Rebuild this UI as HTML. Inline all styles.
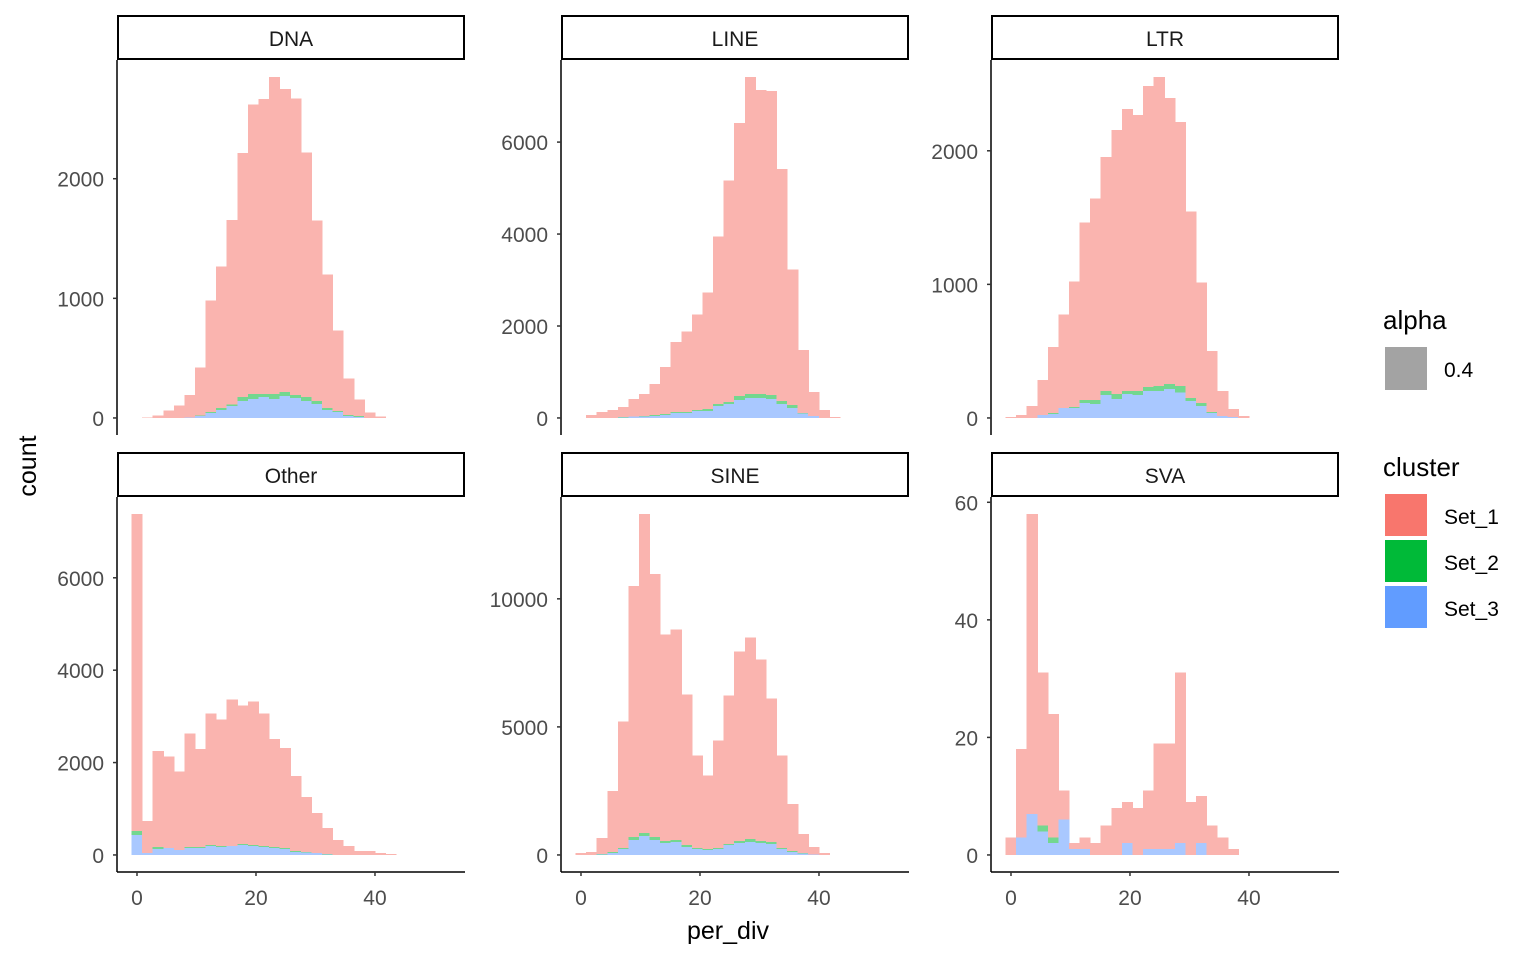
<!DOCTYPE html>
<html><head><meta charset="utf-8">
<style>
html,body{margin:0;padding:0;background:#fff;}
svg{display:block;font-family:"Liberation Sans",Arial,sans-serif;}
</style></head>
<body>
<svg id="chart" width="1536" height="960" viewBox="0 0 1536 960">
  <g id="panels"></g>
  <text x="36" y="466" font-size="25" fill="#000" text-anchor="middle" transform="rotate(-90 36 466)">count</text>
  <text x="728" y="939" font-size="25" fill="#000" text-anchor="middle">per_div</text>
  <g>
    <text x="1383" y="329" font-size="26" fill="#000">alpha</text>
    <rect x="1385" y="347" width="42" height="43" fill="#A3A3A3"/>
    <text x="1444" y="377" font-size="21" fill="#000">0.4</text>
    <text x="1383" y="476" font-size="26" fill="#000">cluster</text>
    <rect x="1385" y="494" width="42" height="42" fill="#F8766D"/>
    <text x="1444" y="524" font-size="21" fill="#000">Set_1</text>
    <rect x="1385" y="540" width="42" height="42" fill="#00BA38"/>
    <text x="1444" y="570" font-size="21" fill="#000">Set_2</text>
    <rect x="1385" y="586" width="42" height="42" fill="#619CFF"/>
    <text x="1444" y="616" font-size="21" fill="#000">Set_3</text>
  </g>
</svg>
<script>
const facets = ["DNA","LINE","LTR","Other","SINE","SVA"];
const startBins = [1,1,0,0,0,0];
const xTicks = [0,20,40];
const yTicksDNA = [0,1000,2000];
const yTicksLINE = [0,2000,4000,6000];
const yTicksLTR = [0,1000,2000];
const yTicksOther = [0,2000,4000,6000];
const yTicksSINE = [0,5000,10000];
const yTicksSVA = [0,20,40,60];

const dnaSet1 = [5,22,64,105,185,398,930,1182,1541,2040,2420,2465,2650,2533,2478,2045,1508,1117,672,305,138,47,14];
const dnaSet2 = [0,0,0,0,0,5,8,16,14,33,42,25,42,34,25,33,25,16,8,8,9,0,0];
const dnaSet3 = [0,0,0,0,5,17,42,67,100,142,158,175,158,183,167,142,117,67,50,17,8,0,0];

const lineSet1 = [65,130,175,220,375,475,670,1020,1520,1755,2080,2535,3640,4815,5940,6895,6610,6610,5040,2950,1365,520,175,20];
const lineSet2 = [0,0,0,15,5,15,20,20,20,20,25,45,45,40,85,85,85,90,65,65,10,0,0,0];
const lineSet3 = [0,0,0,5,30,30,45,65,110,110,150,150,260,305,390,435,435,410,305,215,100,45,0,0];

const ltrSet1 = [7,22,90,262,493,701,940,1329,1508,1754,1978,2112,2068,2254,2313,2142,1977,1396,903,455,186,60,15];
const ltrSet2 = [0,0,0,0,7,0,7,22,30,29,37,22,29,30,38,38,47,22,22,8,0,0,0];
const ltrSet3 = [0,0,0,22,30,75,75,112,104,172,142,179,172,201,201,216,192,127,90,37,15,7,0];

const otherSet1 = [6860,690,2070,1985,1700,2455,2115,2850,2740,3170,3005,3110,2870,2330,2160,1620,1190,860,560,325,195,85,85,45,20];
const otherSet2 = [90,0,45,0,0,25,25,20,20,0,20,20,20,25,20,20,10,0,15,0,0,0,0,0,0];
const otherSet3 = [430,45,130,150,110,150,150,195,175,195,215,195,175,150,130,65,50,45,5,0,0,0,0,0,0];

const sineSet1 = [80,115,620,2375,4945,9805,12455,10275,8055,8210,5875,3620,2875,4205,5795,7395,7865,7080,5605,3620,1830,740,295,80];
const sineSet2 = [0,0,25,35,35,115,115,115,80,80,80,35,40,35,40,80,115,80,75,35,40,30,0,0];
const sineSet3 = [0,0,15,80,235,585,740,585,465,505,310,235,195,235,390,465,505,465,430,235,115,50,15,0];

const svaSet1 = [3,15,51,26,21,5,1,2,2,5,8,7,8,10,18,18,29,9,8,5,3,1];
const svaSet2 = [0,0,0,1,1,0,0,0,0,0,0,0,0,0,0,0,0,0,0,0,0,0];
const svaSet3 = [0,3,7,4,2,6,1,1,0,0,0,2,0,1,1,1,2,0,2,0,0,0];

const set1All = [dnaSet1,lineSet1,ltrSet1,otherSet1,sineSet1,svaSet1];
const set2All = [dnaSet2,lineSet2,ltrSet2,otherSet2,sineSet2,svaSet2];
const set3All = [dnaSet3,lineSet3,ltrSet3,otherSet3,sineSet3,svaSet3];
const yTicksAll = [yTicksDNA,yTicksLINE,yTicksLTR,yTicksOther,yTicksSINE,yTicksSVA];

const binStart = -0.92, binWidth = 1.778;
const NS = "http://www.w3.org/2000/svg";
const root = document.getElementById("panels");
const panelX = [117,561,991], panelW = 348;
const rowTop = [60,497], plotH = 375;
const XMIN = -3.36, XMAX = 55.13;
const fillCol = {"#619CFF":"#A9C8FF","#00BA38":"#73D78F","#F8766D":"#FAB4AF"};

function mk(tag, attrs, parent){
  const e = document.createElementNS(NS, tag);
  for (const k in attrs) e.setAttribute(k, attrs[k]);
  parent.appendChild(e);
  return e;
}

facets.forEach((name, i) => {
  const col = i % 3, row = Math.floor(i / 3);
  const px = panelX[col], py = rowTop[row];
  const s1 = set1All[i], s2 = set2All[i], s3 = set3All[i];
  const totals = s1.map((v, j) => v + s2[j] + s3[j]);
  const M = Math.max(...totals);
  const yMin = -0.05 * M, yMax = 1.05 * M;
  const xs = v => px + (v - XMIN) / (XMAX - XMIN) * panelW;
  const ys = v => py + plotH - (v - yMin) / (yMax - yMin) * plotH;

  const g = mk("g", {}, root);
  
  

  const strip = mk("rect", {x: px + 1, y: py - 44, width: panelW - 2, height: 43, fill: "#fff", stroke: "#000", "stroke-width": 2}, g);
  
  
  const st = mk("text", {x: px + panelW / 2, y: py - 14, "font-size": 21, fill: "#1a1a1a", "text-anchor": "middle"}, g);
  st.textContent = name;
  
  

  const layers = [[s3, "#619CFF"], [s2, "#00BA38"], [s1, "#F8766D"]];
  s1.forEach((_, j) => {
    const b = startBins[i] + j;
    const x0 = xs(binStart + b * binWidth), x1 = xs(binStart + (b + 1) * binWidth);
    let base = 0;
    layers.forEach(([arr, color], li) => {
      const v = arr[j];
      if (v > 0) {
        const r = mk("rect", {x: x0, y: ys(base + v), width: x1 - x0 + 0.6, height: ys(base) - ys(base + v), fill: fillCol[color], "shape-rendering": "crispEdges"}, g);
        
        
      }
      base += v;
    });
  });

  const ya = mk("line", {x1: px, x2: px, y1: py, y2: py + plotH, stroke: "#000", "stroke-width": 1.5}, g);
  
  
  yTicksAll[i].forEach(t => {
    const y = ys(t);
    const tk = mk("line", {x1: px - 4, x2: px, y1: y, y2: y, stroke: "#333", "stroke-width": 1.5}, g);
    
    
    const tl = mk("text", {x: px - 13, y: y + 8, "font-size": 21, fill: "#4d4d4d", "text-anchor": "end"}, g);
    tl.textContent = t;
    
    
  });

  if (row === 1) {
    const xa = mk("line", {x1: px, x2: px + panelW, y1: py + plotH, y2: py + plotH, stroke: "#000", "stroke-width": 1.5}, g);
    
    
    xTicks.forEach(t => {
      const x = xs(t);
      const tk = mk("line", {x1: x, x2: x, y1: py + plotH, y2: py + plotH + 4, stroke: "#333", "stroke-width": 1.5}, g);
      
      
      const tl = mk("text", {x: x, y: py + plotH + 33, "font-size": 21, fill: "#4d4d4d", "text-anchor": "middle"}, g);
      tl.textContent = t;
      
      
    });
  }
});
</script>
</body></html>
